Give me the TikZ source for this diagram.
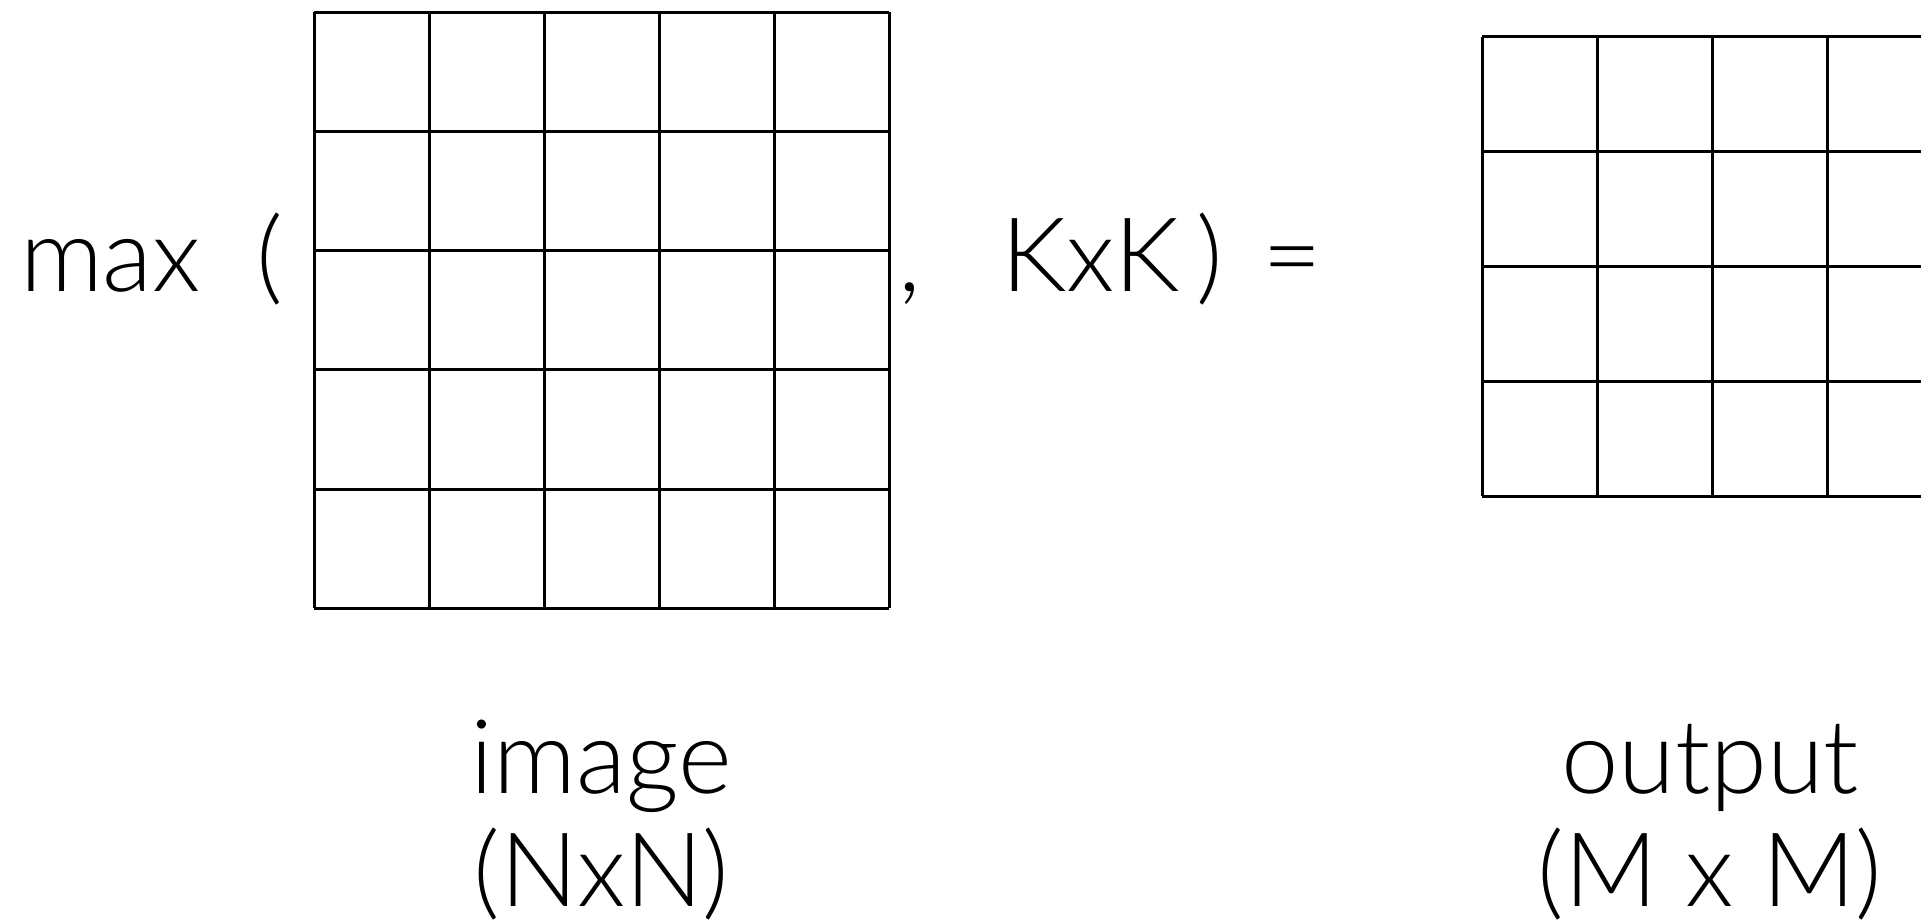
\documentclass[tikz,border=0pt]{standalone}
\usepackage{fontspec}
\setmainfont{Lato}[UprightFont={* Light}]
\begin{document}
\begin{tikzpicture}[x=0.5pt,y=-0.5pt]
\tikzset{
  gridline/.style={line width=1.5pt, black},
  txt/.style={inner sep=0pt, outer sep=0pt, font=\fontsize{51.5}{56.5}\selectfont},
  lbl/.style={txt, align=center, anchor=base}
}
\useasboundingbox (0,0) rectangle (1921,923);
\fill[white] (0,0) rectangle (1921,923);
% left grid 5x5
\foreach \i in {0,...,5} {
  \draw[gridline] ({314+115*\i},12.3) -- ({314+115*\i},608.3);
  \draw[gridline] (314,{12.3+119.2*\i}) -- (889,{12.3+119.2*\i});
}
\node[draw=none, inner sep=0pt, minimum width=287.5pt, minimum height=298pt] (imggrid) at (601.5,310.3) {};
% right grid (clipped at the right edge)
\begin{scope}
\clip (0,0) rectangle (1921,923);
\foreach \i in {0,...,4} {
  \draw[gridline] ({1482+115*\i},36.7) -- ({1482+115*\i},496);
  \draw[gridline] (1482,{36.7+114.83*\i}) -- (1960,{36.7+114.83*\i});
}
\end{scope}
\node[inner sep=0pt, minimum width=230pt, minimum height=229.6pt] (outgrid) at (1712,266.3) {};
% formula text
\node[txt, anchor=base west] (max) at (20,291) {max};
\node[txt, anchor=base west] (lparen) at (256,291) {(};
\node[txt, anchor=base west] (comma) at (898,291) {,};
\node[txt, anchor=base west] (kxk) at (1001,291) {KxK};
\node[txt, anchor=base west] (rparen) at (1196,291) {)};
\node[txt, anchor=base west] (eq) at (1262,291) {=};
% labels (base anchor = baseline of the last line)
\node[lbl] (imglabel) at (601.5,906) {image\\(NxN)};
\node[lbl] (outlabel) at (1710,906) {output\\(M x M)};
\end{tikzpicture}
\end{document}
